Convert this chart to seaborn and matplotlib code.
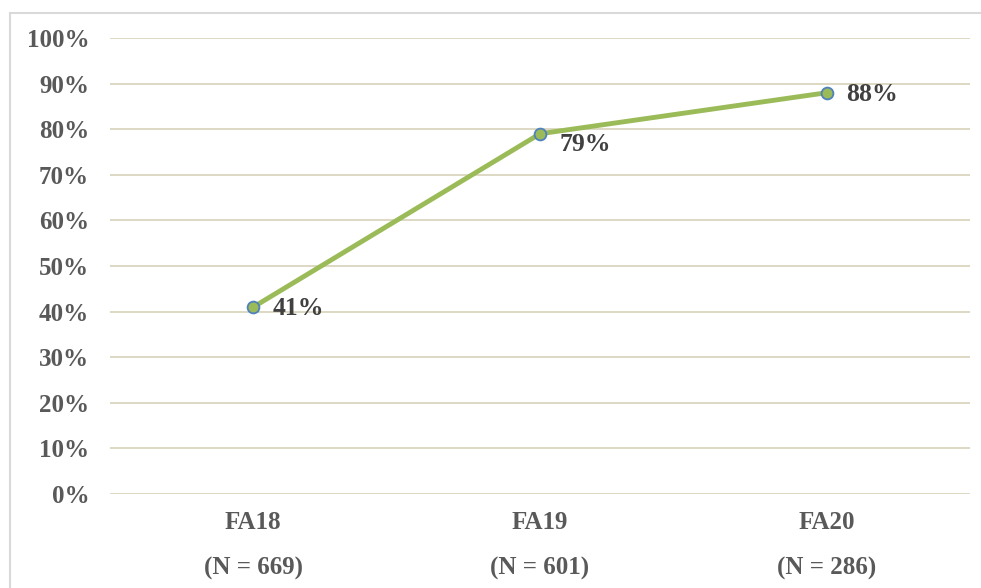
import matplotlib
matplotlib.use("Agg")
import matplotlib.pyplot as plt
from matplotlib.lines import Line2D
import seaborn as sns
import pandas as pd

# Data
terms = ["FA18", "FA19", "FA20"]
counts = [669, 601, 286]
rates = [41, 79, 88]
y_ticks = [0, 10, 20, 30, 40, 50, 60, 70, 80, 90, 100]

df = pd.DataFrame({"term": terms, "rate": rates})
df["pos"] = range(len(terms))

sns.set_theme(style="white")
plt.rcParams["font.family"] = ["Liberation Serif", "DejaVu Serif"]

fig = plt.figure(figsize=(9.81, 5.88), dpi=100)
ax = fig.add_axes([110 / 981, 1 - 494 / 588, 860 / 981, 456 / 588])

grid_color = "#DDD8C4"
for t in y_ticks:
    ax.axhline(t, color=grid_color, lw=1.4, zorder=0)

sns.lineplot(data=df, x="pos", y="rate", ax=ax, color="#9BBB59", lw=3.5,
             marker="o", markersize=8.5, markerfacecolor="#9BBB59",
             markeredgecolor="#4F81BD", markeredgewidth=1.3, zorder=3)

# Label placement (points): right of each marker, nudged where lines crowd
label_offsets = [(14, -1), (14, -8), (14, -1)]
for (x, v), (dx, dy) in zip(zip(df["pos"], df["rate"]), label_offsets):
    ax.annotate(f"{v}%", (x, v), xytext=(dx, dy), textcoords="offset points",
                ha="left", va="center", fontsize=18.5, fontweight="bold",
                color="#404040")

ax.set_xlim(-0.5, len(terms) - 0.5)
ax.set_ylim(0, 100)
ax.set_yticks(y_ticks)
ax.set_yticklabels([f"{t}%" for t in y_ticks], fontsize=18, fontweight="bold",
                   color="#595959")
ax.set_xticks(range(len(terms)))
ax.set_xticklabels([f"{t}\n(N = {n})" for t, n in zip(terms, counts)],
                   fontsize=18, fontweight="bold", color="#595959",
                   linespacing=2.3)
ax.tick_params(axis="y", length=0, pad=15)
ax.tick_params(axis="x", length=0, pad=12)
ax.set_xlabel("")
ax.set_ylabel("")
for s in ax.spines.values():
    s.set_visible(False)

# Chart frame
fx = 9.5 / 981
fy = 1 - 12.5 / 588
fig.add_artist(Line2D([fx, fx], [0, fy], transform=fig.transFigure,
                      color="#D9D9D9", lw=1.5))
fig.add_artist(Line2D([fx, 1], [fy, fy], transform=fig.transFigure,
                      color="#D9D9D9", lw=1.5))

fig.savefig("out.png", dpi=100)
